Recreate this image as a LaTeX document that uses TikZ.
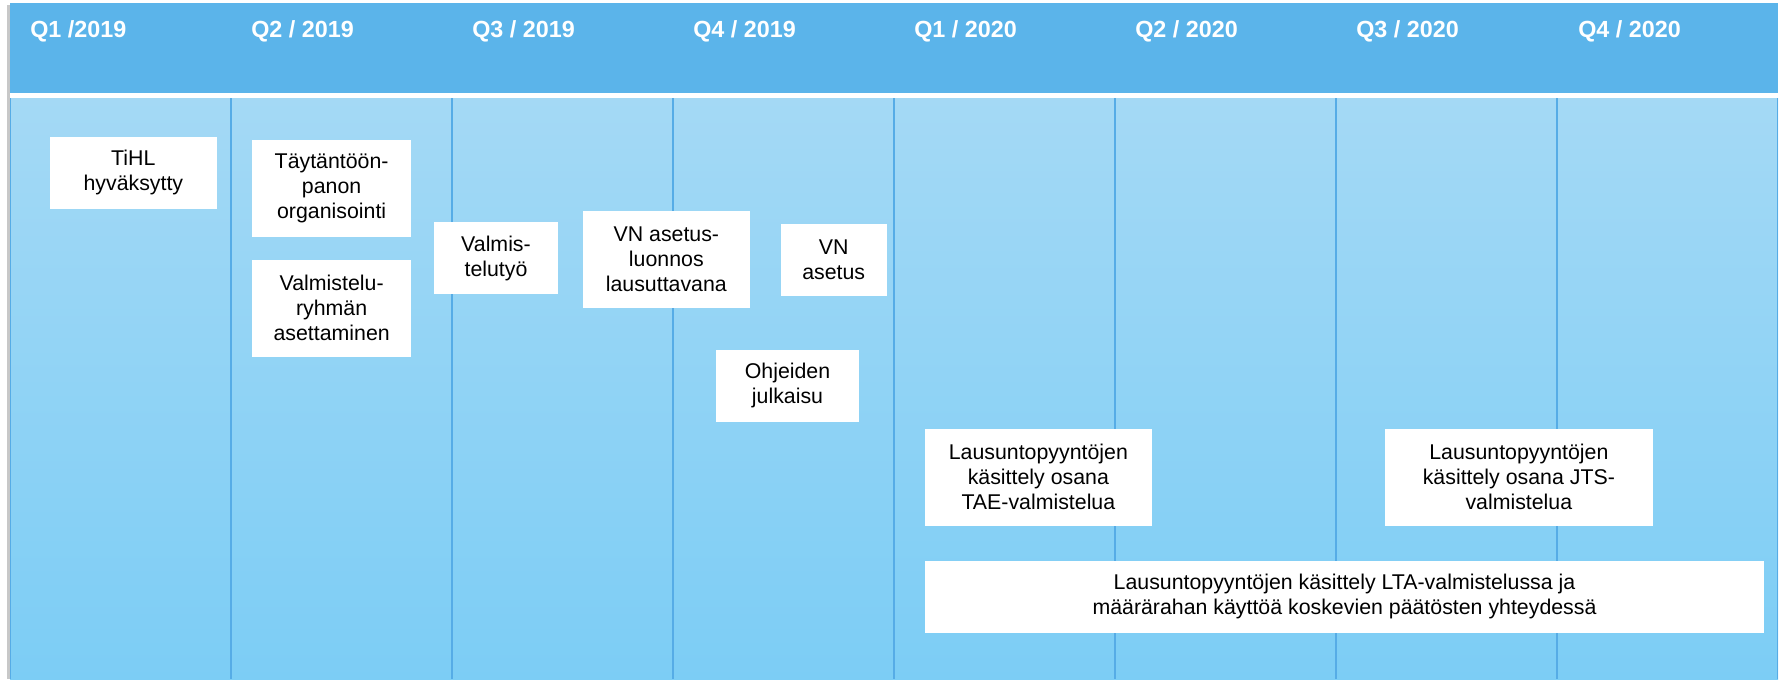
\documentclass[tikz,border=0pt]{standalone}
\usepackage{fontspec}
\setmainfont{Liberation Sans}
\definecolor{hdr}{RGB}{91,180,234}
\definecolor{bodytop}{RGB}{164,217,245}
\definecolor{bodybot}{RGB}{124,205,245}
\definecolor{colline}{RGB}{86,172,230}
\definecolor{shadowc}{RGB}{200,200,200}
\tikzset{
  box/.style={fill=white, draw=none, inner sep=0pt, align=center, font=\fontsize{16}{18.75}\selectfont},
  bsize/.style 2 args={box, minimum width={#1*0.75pt}, minimum height={#2*0.75pt}},
  qlabel/.style={anchor=base west, text=white, inner sep=0pt, font=\bfseries\fontsize{17.5}{21}\selectfont},
  divider/.style={draw=colline, line width=1.5pt}
}
\begin{document}
\begin{tikzpicture}[x=0.75pt,y=-0.75pt]
\useasboundingbox (0,0) rectangle (1781,679);
% shadow
\fill[shadowc] (6.5,5) rectangle (10,679);
% header
\fill[hdr] (10,3) rectangle (1778,93);
% body
\shade[top color=bodytop, bottom color=bodybot] (10,98) rectangle (1778,679);
\draw[colline, line width=1.2pt] (10.5,98) -- (10.5,679);
\draw[colline, line width=1.2pt] (1777.5,98) -- (1777.5,679);
% column dividers
\foreach \i in {1,...,7} {
  \draw[divider] ({9.5+221*\i},98) -- ({9.5+221*\i},679);
}
% header labels
\node[qlabel] (q1) at (30,37) {Q1 /2019};
\node[qlabel] (q2) at (251,37) {Q2 / 2019};
\node[qlabel] (q3) at (472,37) {Q3 / 2019};
\node[qlabel] (q4) at (693,37) {Q4 / 2019};
\node[qlabel] (q5) at (914,37) {Q1 / 2020};
\node[qlabel] (q6) at (1135,37) {Q2 / 2020};
\node[qlabel] (q7) at (1356,37) {Q3 / 2020};
\node[qlabel] (q8) at (1578,37) {Q4 / 2020};
% boxes
\node[bsize={166.7}{72.3}] (tihl) at (133.35,172.85) {TiHL\\hyväksytty};
\node[bsize={158.7}{96.7}] (tayt) at (331.65,188.35) {Täytäntöön-\\panon\\organisointi};
\node[bsize={158.7}{96.7}] (valm) at (331.65,308.35) {Valmistelu-\\ryhmän\\asettaminen};
\node[bsize={123.4}{71.4}] (valmtyo) at (496,258) {Valmis-\\telutyö};
\node[bsize={167.3}{96.7}] (vnluon) at (666.35,259.35) {VN asetus-\\luonnos\\lausuttavana};
\node[bsize={106}{71.7}] (vnas) at (833.7,259.85) {VN\\asetus};
\node[bsize={143}{71.7}] (ohje) at (787.5,385.85) {Ohjeiden\\julkaisu};
\node[bsize={226.7}{96.7}] (tae) at (1038.35,477.35) {Lausuntopyyntöjen\\käsittely osana\\TAE-valmistelua};
\node[bsize={267.7}{96.7}] (jts) at (1518.85,477.35) {Lausuntopyyntöjen\\käsittely osana JTS-\\valmistelua};
\node[bsize={839}{72}] (lta) at (1344.5,596.7) {Lausuntopyyntöjen käsittely LTA-valmistelussa ja\\määrärahan käyttöä koskevien päätösten yhteydessä};
\end{tikzpicture}
\end{document}
